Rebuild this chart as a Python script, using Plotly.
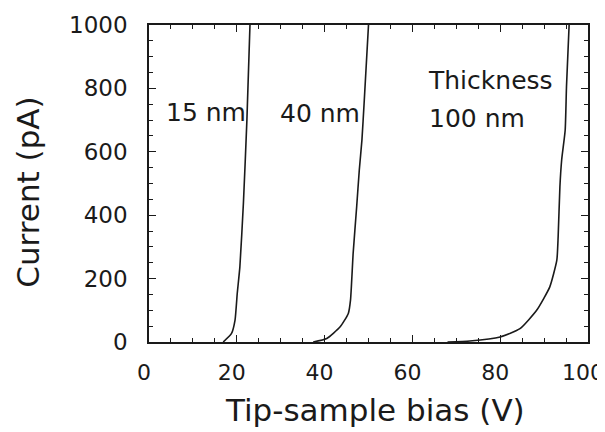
import plotly.graph_objects as go

# Data
bias_15 = [16.9, 18.8, 19.6, 20.1, 20.7, 21.5, 22.3, 23.0]
cur_15 = [0, 27, 69, 153, 237, 437, 700, 1000]

bias_40 = [37.4, 40.5, 43.5, 45.4, 45.9, 46.5, 47.3, 47.9, 48.5, 49.0, 50.0]
cur_40 = [0, 11, 47, 90, 132, 279, 426, 542, 637, 753, 1000]

bias_100 = [68.0, 73.1, 80.0, 84.5, 88.3, 91.3, 92.9, 93.2, 93.6, 94.0, 94.8, 95.1, 95.7]
cur_100 = [0, 3, 16, 42, 100, 174, 258, 332, 489, 574, 668, 805, 1000]

x_ticks = [0, 20, 40, 60, 80, 100]
y_ticks = [0, 200, 400, 600, 800, 1000]

FONT = "DejaVu Sans"
INK = "#1a1a1a"

fig = go.Figure()
for xs, ys in [(bias_15, cur_15), (bias_40, cur_40), (bias_100, cur_100)]:
    fig.add_trace(go.Scatter(x=xs, y=ys, mode="lines", line=dict(color=INK, width=1.6, shape="spline", smoothing=0.5),
                             showlegend=False, hoverinfo="skip", cliponaxis=True))

labels = [
    (13.0, 725, "15 nm", "center"),
    (39.0, 722, "40 nm", "center"),
    (63.0, 826, "Thickness", "left"),
    (63.3, 706, "100 nm", "left"),
]
for x, y, t, xa in labels:
    fig.add_annotation(x=x, y=y, text=t, showarrow=False, xanchor=xa, yanchor="middle",
                       font=dict(family=FONT, size=25, color=INK))

fig.add_annotation(xref="paper", yref="paper", x=-0.2756, y=0.471, text="Current (pA)", textangle=-90,
                   showarrow=False, xanchor="center", yanchor="middle", font=dict(family=FONT, size=31, color=INK))
fig.add_annotation(xref="paper", yref="paper", x=0.515, y=-0.216, text="Tip-sample bias (V)",
                   showarrow=False, xanchor="center", yanchor="middle", font=dict(family=FONT, size=31, color=INK))

axis_common = dict(showline=True, linecolor=INK, linewidth=1.6, mirror="ticks", ticks="inside",
                   ticklen=7, tickwidth=1.2, tickcolor=INK, showgrid=False, zeroline=False,
                   ticklabeloverflow="allow")
fig.update_xaxes(range=[0, 100], tickvals=x_ticks, ticktext=[str(v) for v in x_ticks],
                 minor=dict(dtick=5, ticks="inside", ticklen=4, tickcolor=INK, tickwidth=1.0, showgrid=False),
                 ticklabelstandoff=10, ticklabelshift=-5,
                 tickfont=dict(family=FONT, size=22, color=INK), **axis_common)
fig.update_yaxes(range=[0, 1000], tickvals=y_ticks, ticktext=[str(v) for v in y_ticks],
                 minor=dict(dtick=50, ticks="inside", ticklen=4, tickcolor=INK, tickwidth=1.0, showgrid=False),
                 ticklabelstandoff=15,
                 tickfont=dict(family=FONT, size=23, color=INK), **axis_common)

# page body has an 8px margin, so the figure is sized 597x424 to fill the 605x432 window
fig.update_layout(width=597, height=424, margin=dict(l=141, r=17, t=17, b=90, autoexpand=False),
                  paper_bgcolor="white", plot_bgcolor="white", showlegend=False)

fig.write_html("out.html")
